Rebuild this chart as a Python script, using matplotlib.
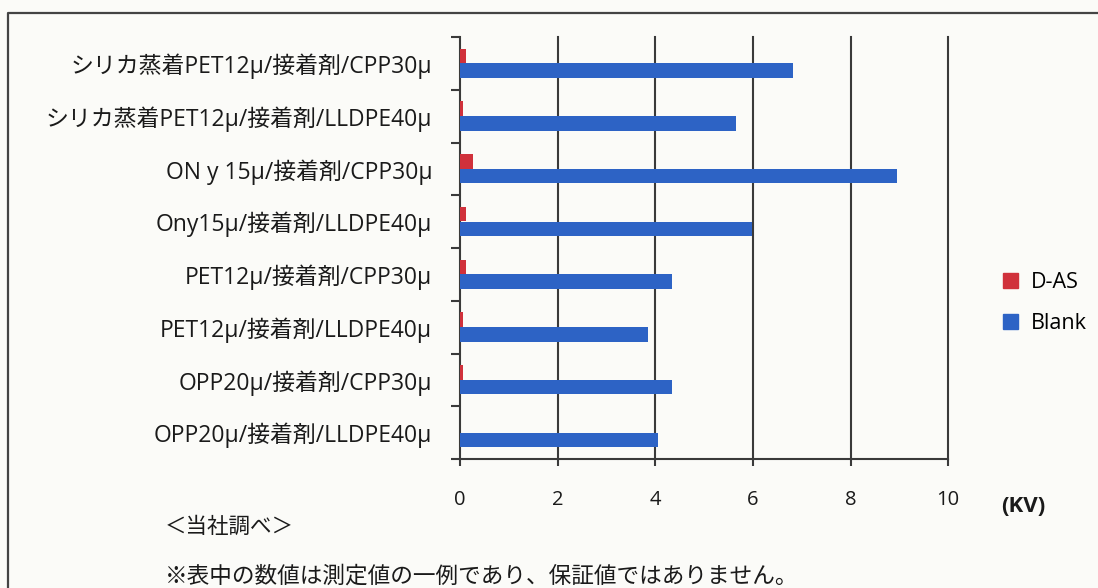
import matplotlib.pyplot as plt
import numpy as np
from matplotlib.patches import Patch
from matplotlib.lines import Line2D

plt.rcParams['font.family'] = ['Open Sans', 'Noto Sans CJK JP', 'DejaVu Sans']

# 構成（上から順）
labels = [
    'シリカ蒸着PET12μ/接着剤/CPP30μ',
    'シリカ蒸着PET12μ/接着剤/LLDPE40μ',
    'ON y 15μ/接着剤/CPP30μ',
    'Ony15μ/接着剤/LLDPE40μ',
    'PET12μ/接着剤/CPP30μ',
    'PET12μ/接着剤/LLDPE40μ',
    'OPP20μ/接着剤/CPP30μ',
    'OPP20μ/接着剤/LLDPE40μ',
]
das = [0.13, 0.07, 0.26, 0.13, 0.13, 0.06, 0.06, 0.0]
blank = [6.82, 5.65, 8.96, 5.98, 4.35, 3.86, 4.35, 4.06]
xticks = [0, 2, 4, 6, 8, 10]

red = '#d0313b'
blue = '#2d63c5'
grid_col = '#3a3a3a'
txt = '#1a1a1a'

fig = plt.figure(figsize=(10.98, 5.88), dpi=100, facecolor='#fbfbf8')
ax = fig.add_axes([0.419, 0.2194, 0.4445, 0.7176])
ax.set_facecolor('#fbfbf8')

y = np.arange(len(labels))
h = 0.275
ax.barh(y - h / 2 - 0.005, das, height=h, color=red, zorder=3)
ax.barh(y + h / 2, blank, height=h, color=blue, zorder=3)

ax.set_xlim(0, 10)
ax.set_ylim(len(labels) - 0.5, -0.5)

# 縦の目盛線
for v in xticks[1:]:
    ax.axvline(v, color=grid_col, lw=1.5, zorder=2, clip_on=False)

ax.set_xticks(xticks)
ax.set_xticklabels([str(v) for v in xticks], fontsize=14.5, color=txt)
ax.tick_params(axis='x', length=5, width=1.5, color=grid_col, pad=17)

ax.set_yticks(y)
ax.set_yticklabels(labels, fontsize=16.5, color=txt)
ax.set_yticks(np.arange(len(labels) + 1) - 0.5, minor=True)
ax.tick_params(axis='y', which='major', length=0, pad=20)
ax.tick_params(axis='y', which='minor', length=6.5, width=1.5, color=grid_col)

for s in ['top', 'right']:
    ax.spines[s].set_visible(False)
for s in ['left', 'bottom']:
    ax.spines[s].set_color(grid_col)
    ax.spines[s].set_linewidth(1.5)

handles = [Patch(color=red, label='D-AS'), Patch(color=blue, label='Blank')]
fig.legend(handles=handles, loc='center left', bbox_to_anchor=(0.896, 0.485),
           frameon=False, fontsize=15.5, handlelength=0.7, handleheight=0.7,
           handletextpad=0.6, labelspacing=0.95)

fig.text(0.912, 0.139, '(KV)', fontsize=16, fontweight='bold', ha='left', va='center', color=txt)
fig.text(0.15, 0.103, '＜当社調べ＞', fontsize=15.5, ha='left', va='center', color=txt)
fig.text(0.15, 0.02, '※表中の数値は測定値の一例であり、保証値ではありません。',
         fontsize=16.3, ha='left', va='center', color=txt)

# 外枠
fig.add_artist(Line2D([0.0073, 0.0073, 1.0], [0.0, 0.978, 0.978],
                      transform=fig.transFigure, color='#444444', lw=1.6))

fig.savefig('out.png', dpi=100, facecolor=fig.get_facecolor())
